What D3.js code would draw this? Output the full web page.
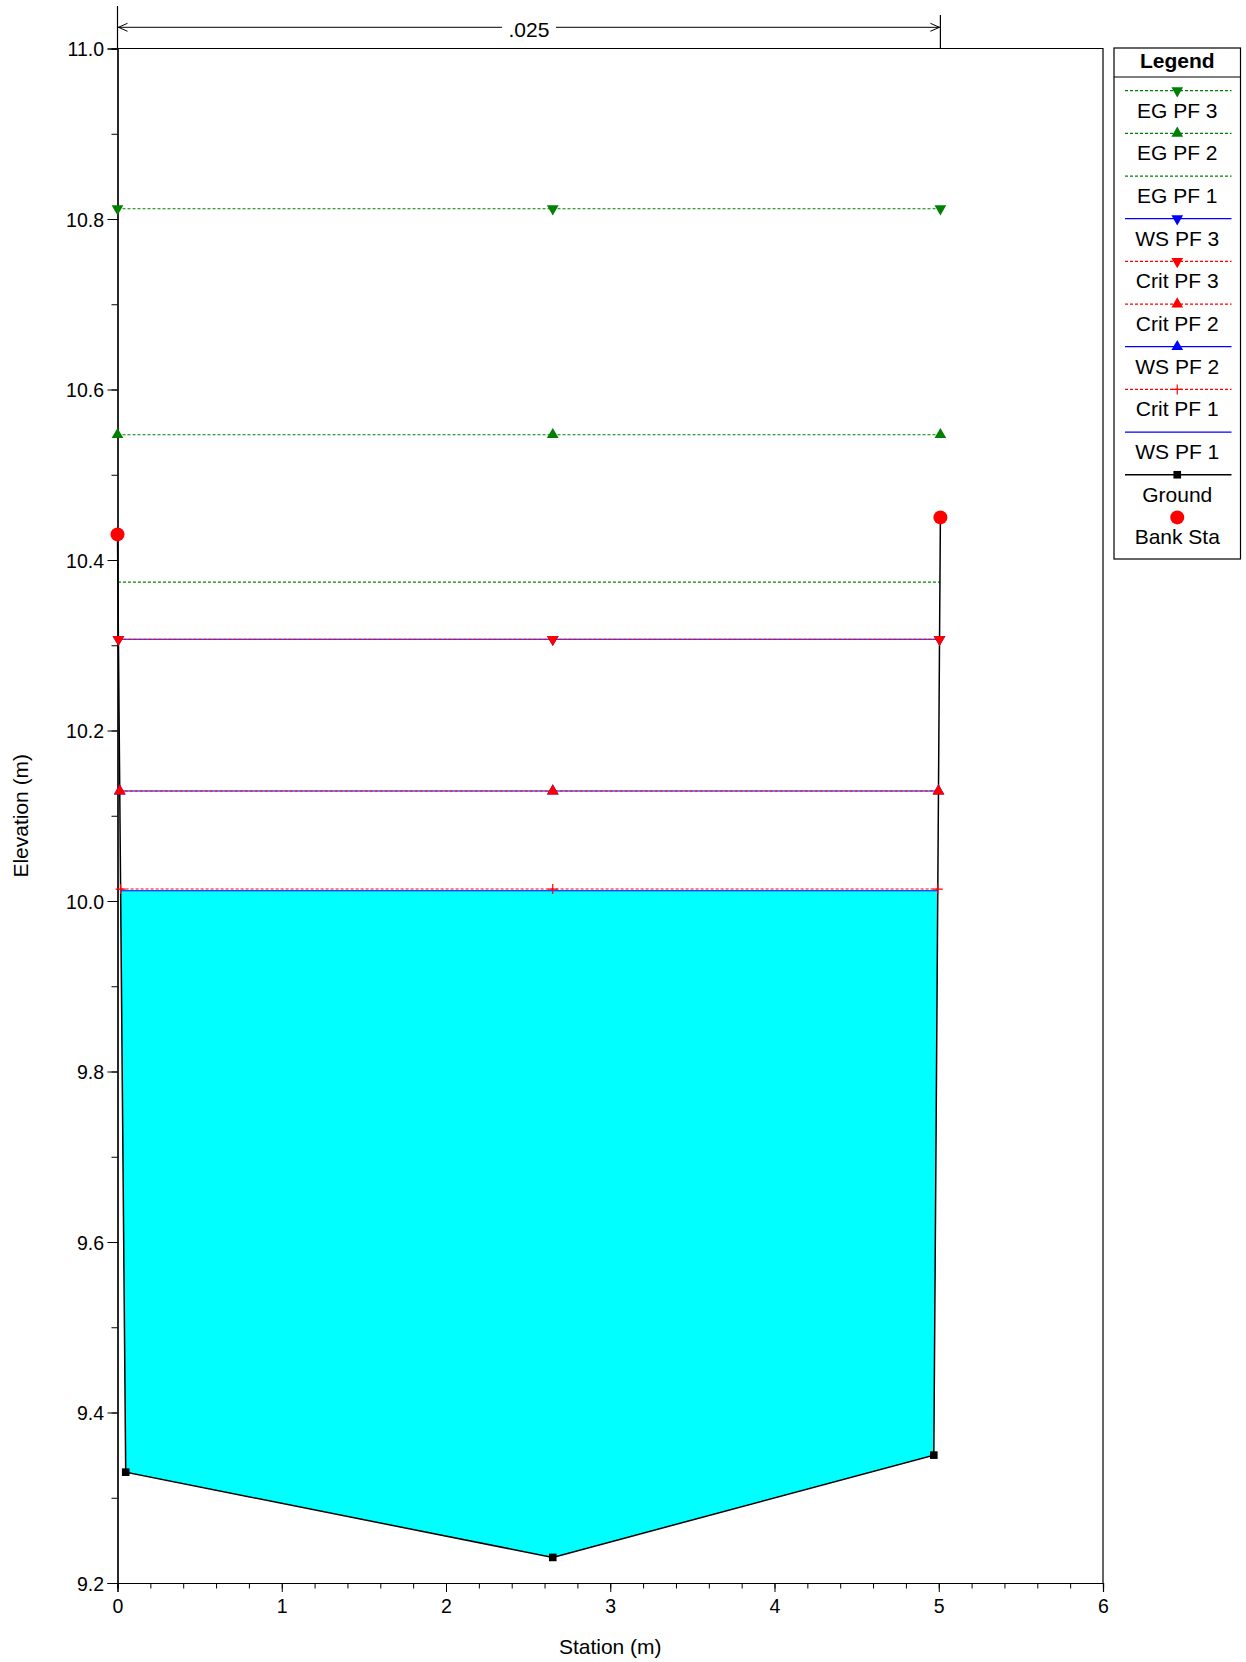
<!DOCTYPE html>
<html>
<head>
<meta charset="utf-8">
<script src="https://cdn.jsdelivr.net/npm/d3@7"></script>
<style>
  html, body { margin: 0; padding: 0; background: #fff; }
  svg { display: block; }
  text { font-family: "Liberation Sans", Arial, sans-serif; }
</style>
</head>
<body>
<svg id="chart" width="1246" height="1662"></svg>
<script>
// ---------------- DATA ----------------
const groundStation = [0, 0.05, 2.65, 4.97, 5.01];
const groundElev    = [10.43, 9.33, 9.23, 9.35, 10.45];
const bankStation   = [0, 5.01];
const bankElev      = [10.43, 10.45];
const profileNames  = ["EG PF 3", "EG PF 2", "EG PF 1", "WS PF 3", "Crit PF 3", "Crit PF 2", "WS PF 2", "Crit PF 1", "WS PF 1"];
const profileElev   = [10.812, 10.547, 10.374, 10.307, 10.307, 10.129, 10.129, 10.014, 10.012];
const nStations     = [0, 5.01];
const nValues       = [".025"];
const xTicks        = [0, 1, 2, 3, 4, 5, 6];
const yTicks        = [9.2, 9.4, 9.6, 9.8, 10.0, 10.2, 10.4, 10.6, 10.8, 11.0];
const fillProfile   = "WS PF 1";

// ---------------- STYLES ----------------
const styleOf = name => {
  if (name.startsWith("EG")) return { color: "#008000", dash: "3,2" };
  if (name.startsWith("WS")) return { color: "#0000ff", dash: null };
  return { color: "#ff0000", dash: "3,2" };
};
const markerOf = name => {
  const n = name.slice(-1);
  if (n === "3") return "down";
  if (n === "2") return "up";
  if (n === "1" && name.startsWith("Crit")) return "plus";
  return null;
};

const svg = d3.select("#chart");
const FONT = 19.5;
const FONT_L = 21;
const x = d3.scaleLinear().domain([0, 6]).range([117.5, 1103]);
const y = d3.scaleLinear().domain([9.2, 11.0]).range([1583, 48.5]);

// intersection of a level with the ground profile
function spanAt(level) {
  const n = groundStation.length;
  let xl = groundStation[0], xr = groundStation[n - 1];
  if (level < groundElev[0]) {
    for (let i = 0; i < n - 1; i++) {
      const e0 = groundElev[i], e1 = groundElev[i + 1];
      if (e0 >= level && e1 <= level) {
        xl = groundStation[i] + (groundStation[i + 1] - groundStation[i]) * (e0 - level) / (e0 - e1);
        break;
      }
    }
  }
  if (level < groundElev[n - 1]) {
    for (let i = n - 1; i > 0; i--) {
      const e0 = groundElev[i], e1 = groundElev[i - 1];
      if (e0 >= level && e1 <= level) {
        xr = groundStation[i] - (groundStation[i] - groundStation[i - 1]) * (e0 - level) / (e0 - e1);
        break;
      }
    }
  }
  return [xl, xr];
}
const thalweg = groundStation[groundElev.indexOf(d3.min(groundElev))];

// ---------------- WATER FILL ----------------
const wsLevel = profileElev[profileNames.indexOf(fillProfile)];
const [fl, fr] = spanAt(wsLevel);
const fillPts = [[fl, wsLevel]];
groundStation.forEach((s, i) => { if (groundElev[i] < wsLevel && s > fl && s < fr) fillPts.push([s, groundElev[i]]); });
fillPts.push([fr, wsLevel]);
svg.append("path")
  .attr("d", d3.line().x(d => x(d[0])).y(d => y(d[1]))(fillPts) + "Z")
  .attr("fill", "#00ffff").attr("stroke", "none");

// ---------------- AXES ----------------
const gx = svg.append("g").attr("transform", `translate(0,${y(9.2)})`);
gx.call(d3.axisBottom(x).tickValues(d3.range(0, 6.001, 0.2)).tickSize(5.5).tickFormat(""));
gx.call(g => g.append("g").call(d3.axisBottom(x).tickValues(xTicks).tickSize(9).tickFormat(d3.format("d"))));
gx.selectAll(".domain").attr("stroke", "#000");
gx.selectAll("text").attr("font-size", FONT).attr("fill", "#000").attr("dy", null).attr("y", 29.5);

const gy = svg.append("g").attr("transform", `translate(${x(0)},0)`);
gy.call(d3.axisLeft(y).tickValues(d3.range(9.2, 11.001, 0.1)).tickSize(6).tickFormat(""));
gy.call(g => g.append("g").call(d3.axisLeft(y).tickValues(yTicks).tickSize(10).tickFormat(d3.format(".1f"))));
gy.selectAll("text").attr("font-size", FONT).attr("fill", "#000").attr("dy", "0.37em").attr("x", -13.5);
svg.selectAll(".domain").attr("stroke-width", 1.2);

// frame top and right
svg.append("path")
  .attr("d", `M${x(0)},${y(11)}H${x(6)}V${y(9.2)}`)
  .attr("fill", "none").attr("stroke", "#000").attr("stroke-width", 1.2);

// axis titles
svg.append("text").attr("x", (x(0) + x(6)) / 2).attr("y", 1654)
  .attr("text-anchor", "middle").attr("font-size", FONT_L).text("Station (m)");
svg.append("text").attr("transform", `translate(28,${(y(11) + y(9.2)) / 2}) rotate(-90)`)
  .attr("text-anchor", "middle").attr("font-size", FONT_L).text("Elevation (m)");

// ---------------- N-VALUE ANNOTATION ----------------
const annY = 27.3;
svg.append("line").attr("x1", x(nStations[0])).attr("x2", x(nStations[0])).attr("y1", 6).attr("y2", y(11)).attr("stroke", "#000").attr("stroke-width", 1.2);
svg.append("line").attr("x1", x(nStations[1])).attr("x2", x(nStations[1])).attr("y1", 15).attr("y2", y(11)).attr("stroke", "#000").attr("stroke-width", 1.2);
svg.append("line").attr("x1", x(nStations[0])).attr("x2", x(nStations[1])).attr("y1", annY).attr("y2", annY).attr("stroke", "#000").attr("stroke-width", 1);
const axl = x(nStations[0]) + 1, axr = x(nStations[1]) - 1;
svg.append("path").attr("d", `M${axl + 9},${annY - 4}L${axl},${annY}L${axl + 9},${annY + 4}`).attr("fill", "none").attr("stroke", "#000");
svg.append("path").attr("d", `M${axr - 9},${annY - 4}L${axr},${annY}L${axr - 9},${annY + 4}`).attr("fill", "none").attr("stroke", "#000");
const nMid = (x(nStations[0]) + x(nStations[1])) / 2;
svg.append("rect").attr("x", nMid - 27).attr("y", annY - 10).attr("width", 54).attr("height", 20).attr("fill", "#fff");
svg.append("text").attr("x", nMid).attr("y", annY + 9.4).attr("text-anchor", "middle").attr("font-size", FONT_L).text(nValues[0]);

// ---------------- MARKERS ----------------
function drawMarker(g, type, cx, cy, color) {
  if (type === "down" || type === "up") {
    g.append("path").attr("d", d3.symbol(d3.symbolTriangle, 60)())
      .attr("transform", `translate(${cx},${cy})` + (type === "down" ? " rotate(180)" : ""))
      .attr("fill", color);
  } else if (type === "plus") {
    g.append("path").attr("d", `M${cx - 5},${cy}H${cx + 5}M${cx},${cy - 5}V${cy + 5}`)
      .attr("stroke", color).attr("stroke-width", 1.2).attr("fill", "none");
  } else if (type === "square") {
    g.append("rect").attr("x", cx - 3.8).attr("y", cy - 3.8).attr("width", 7.6).attr("height", 7.6).attr("fill", "#000");
  } else if (type === "circle") {
    g.append("circle").attr("cx", cx).attr("cy", cy).attr("r", 7).attr("fill", "#ff0000");
  }
}

// ---------------- PROFILE LINES ----------------
const drawOrder = ["EG PF 1", "EG PF 2", "EG PF 3", "WS PF 1", "WS PF 2", "WS PF 3", "Crit PF 1", "Crit PF 2", "Crit PF 3"];
const gLines = svg.append("g");
drawOrder.forEach(name => {
  const i = profileNames.indexOf(name);
  const lev = profileElev[i];
  const [sl, sr] = spanAt(lev);
  const st = styleOf(name);
  gLines.append("line").attr("x1", x(sl)).attr("x2", x(sr)).attr("y1", y(lev)).attr("y2", y(lev))
    .attr("stroke", st.color).attr("stroke-width", 1.1).attr("stroke-dasharray", st.dash);
});

// ground line
svg.append("path")
  .attr("d", d3.line().x((d, i) => x(groundStation[i])).y(d => y(d))(groundElev))
  .attr("fill", "none").attr("stroke", "#000").attr("stroke-width", 1.5);

const gMarks = svg.append("g");
drawOrder.forEach(name => {
  const i = profileNames.indexOf(name);
  const lev = profileElev[i];
  const mt = markerOf(name);
  if (!mt) return;
  const [sl, sr] = spanAt(lev);
  [sl, thalweg, sr].forEach(s => drawMarker(gMarks, mt, x(s), y(lev), styleOf(name).color));
});
groundStation.forEach((s, i) => drawMarker(gMarks, "square", x(s), y(groundElev[i])));
bankStation.forEach((s, i) => drawMarker(gMarks, "circle", x(s), y(bankElev[i])));

// ---------------- LEGEND ----------------
const lg = svg.append("g");
const L = { x0: 1114, x1: 1240.5, y0: 48, y1: 559 };
lg.append("rect").attr("x", L.x0).attr("y", L.y0).attr("width", L.x1 - L.x0).attr("height", L.y1 - L.y0)
  .attr("fill", "#fff").attr("stroke", "#000").attr("stroke-width", 1.2);
lg.append("line").attr("x1", L.x0).attr("x2", L.x1).attr("y1", 77).attr("y2", 77).attr("stroke", "#000").attr("stroke-width", 1.2);
const lcx = (L.x0 + L.x1) / 2;
lg.append("text").attr("x", lcx).attr("y", 67.5).attr("text-anchor", "middle").attr("font-size", 21).attr("font-weight", "bold").text("Legend");
const legendItems = profileNames.concat(["Ground", "Bank Sta"]);
legendItems.forEach((name, k) => {
  const ly = 90.7 + k * 42.67;
  if (name === "Ground") {
    lg.append("line").attr("x1", 1125).attr("x2", 1231.5).attr("y1", ly).attr("y2", ly).attr("stroke", "#000").attr("stroke-width", 1.3);
    drawMarker(lg, "square", lcx, ly);
  } else if (name === "Bank Sta") {
    drawMarker(lg, "circle", lcx, ly);
  } else {
    const st = styleOf(name);
    lg.append("line").attr("x1", 1125).attr("x2", 1231.5).attr("y1", ly).attr("y2", ly)
      .attr("stroke", st.color).attr("stroke-width", 1.3).attr("stroke-dasharray", st.dash);
    const mt = markerOf(name);
    if (mt) drawMarker(lg, mt, lcx, ly, st.color);
  }
  lg.append("text").attr("x", lcx).attr("y", ly + 27).attr("text-anchor", "middle").attr("font-size", FONT_L).text(name);
});
</script>
</body>
</html>
